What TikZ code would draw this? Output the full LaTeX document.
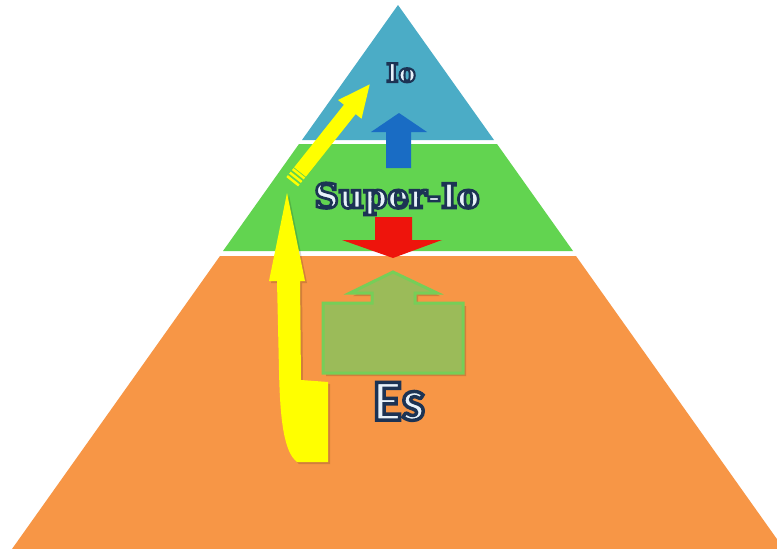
\documentclass[tikz,border=0pt]{standalone}
\usepackage{fontspec}
\newfontfamily\wserifA{DejaVu Serif}[FakeBold=8]
\newfontfamily\wserifB{DejaVu Serif}[FakeBold=8]
\newfontfamily\wsans{Carlito}[FakeBold=6]
\definecolor{blueL}{RGB}{75,172,198}
\definecolor{greenL}{RGB}{98,212,80}
\definecolor{orangeL}{RGB}{247,150,70}
\definecolor{blueA}{RGB}{25,108,196}
\definecolor{redA}{RGB}{238,20,12}
\definecolor{greenA}{RGB}{155,187,89}
\definecolor{greenB}{RGB}{118,206,88}
\definecolor{yellowA}{RGB}{255,255,0}
\newcommand{\outlined}[1]{\special{pdf:bcolor [0.91 0.95 0.98] [0.11 0.2 0.33]}#1\special{pdf:ecolor}}
\tikzset{
  layer/.style={fill=#1, draw=none},
  wlabel/.style={inner sep=0pt, anchor=base}
}
\begin{document}
\begin{tikzpicture}[x=1pt,y=-1pt]
\useasboundingbox (0,0) rectangle (777,549);
\fill[white] (0,0) rectangle (777,549);
\clip (0,0) rectangle (777,549);
% pyramid layers
\fill[layer=blueL] (398,5) -- (494,140) -- (302,140) -- cycle;
\fill[layer=greenL] (299,144) -- (497,144) -- (573,251) -- (223,251) -- cycle;
\fill[layer=orangeL] (220,256) -- (576,256) -- (784,549) -- (12,549) -- cycle;
% blue arrow (up)
\fill[blueA] (386,168) -- (386,132) -- (371,132) -- (399,113) -- (427,132) -- (411,132) -- (411,168) -- cycle;
% red arrow (down)
\fill[redA] (375,217) -- (412,217) -- (412,240) -- (442,240) -- (393,258) -- (342,240) -- (375,240) -- cycle;
% green block arrow
\fill[black,opacity=0.15] (326,306) -- (375,306) -- (375,296) -- (353,296) -- (396,275) -- (440,296) -- (418,296) -- (418,306) -- (466,306) -- (466,376) -- (326,376) -- cycle;
\draw[fill=greenA, draw=greenB, line width=3pt, line join=miter]
  (323,303) -- (372,303) -- (372,293) -- (350,293) -- (393,272) -- (437,293) -- (415,293) -- (415,303) -- (463,303) -- (463,373) -- (323,373) -- cycle;
% yellow lower arrow
\fill[black,opacity=0.15] (289,195) -- (307,283) -- (302,283) -- (303,382) -- (330,384) -- (330,464) -- (299,464) .. controls (286,454) and (282,422) .. (281,372) -- (279,283) -- (271,283) -- cycle;
\fill[yellowA] (287,193) -- (305,281) -- (300,281) -- (301,380) -- (328,382) -- (328,462) -- (297,462) .. controls (284,452) and (280,420) .. (279,370) -- (277,281) -- (269,281) -- cycle;
% yellow upper arrow with stripes
\begin{scope}[shift={(300,172)}, rotate=51.5]
  \fill[yellowA] (0,-7.5) -- (80,-7.5) -- (80,-15) -- (112,0) -- (80,15) -- (80,7.5) -- (0,7.5) -- cycle;
  \fill[yellowA] (-3.5,-7.5) rectangle (-1,7.5);
  \fill[yellowA] (-8,-7.5) rectangle (-5.5,7.5);
  \fill[yellowA] (-12.5,-7.5) rectangle (-10,7.5);
\end{scope}
% labels
\node[wlabel] (io) at (401,82) {\wserifB\bfseries\fontsize{26}{26}\selectfont\outlined{Io}};
\node[wlabel] (superio) at (397,208) {\wserifA\bfseries\fontsize{34}{34}\selectfont\outlined{Super-Io}};
\node[wlabel] (es) at (399,420) {\wsans\bfseries\fontsize{58}{58}\selectfont\outlined{Es}};
\end{tikzpicture}
\end{document}
